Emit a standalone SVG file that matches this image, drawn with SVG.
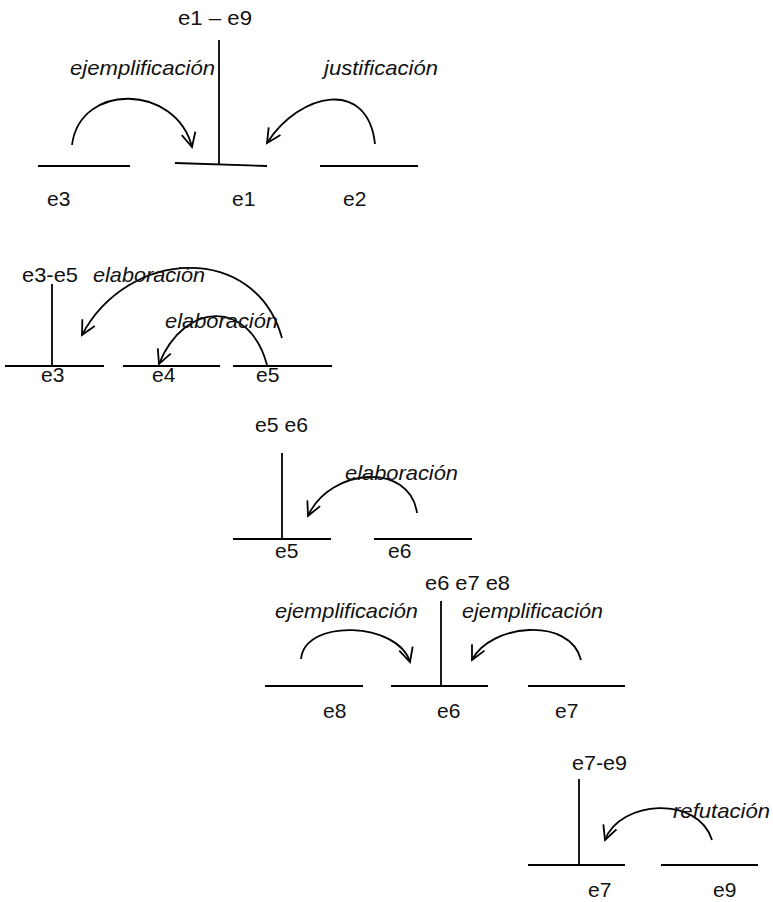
<svg xmlns="http://www.w3.org/2000/svg" width="773" height="902" viewBox="0 0 773 902">
<style>
.ln{stroke:#000;stroke-width:1.8;fill:none}
.t{font-family:"Liberation Sans",Arial,sans-serif;font-size:21px;fill:#111}
.r{font-family:"Liberation Sans",Arial,sans-serif;font-size:21px;font-style:italic;fill:#111}
.arc{stroke:#000;stroke-width:1.8;fill:none;marker-end:url(#ah)}
</style>
<defs>
<marker id="ah" markerUnits="userSpaceOnUse" markerWidth="20" markerHeight="20" refX="0" refY="0" viewBox="-16 -10 20 20" orient="auto">
<path d="M-14,-7 L0,0 L-14,7" stroke="#000" stroke-width="1.8" fill="none"/>
</marker>
</defs>
<rect width="773" height="902" fill="#fff"/>

<!-- Section 1 -->
<g id="n-e1-e9">
<line class="ln" x1="219" y1="40" x2="219" y2="165"/>
<text class="t" x="178" y="25" textLength="74" lengthAdjust="spacingAndGlyphs">e1 – e9</text>
</g>
<g id="n-e3-a">
<line class="ln" x1="38" y1="166" x2="130" y2="166"/>
<text class="t" x="47" y="206">e3</text>
</g>
<g id="n-e1">
<line class="ln" x1="175" y1="163" x2="267" y2="166"/>
<text class="t" x="232" y="206">e1</text>
</g>
<g id="n-e2">
<line class="ln" x1="320" y1="166" x2="418" y2="166"/>
<text class="t" x="343" y="206">e2</text>
</g>

<!-- Section 2 -->
<g id="n-e3-e5">
<line class="ln" x1="52" y1="284" x2="52" y2="366"/>
<text class="t" x="22" y="282" textLength="56" lengthAdjust="spacingAndGlyphs">e3-e5</text>
</g>
<g id="n-e3-b">
<line class="ln" x1="5" y1="366" x2="104" y2="366"/>
<text class="t" x="41" y="382">e3</text>
</g>
<g id="n-e4">
<line class="ln" x1="123" y1="366" x2="220" y2="366"/>
<text class="t" x="152" y="382">e4</text>
</g>
<g id="n-e5-a">
<line class="ln" x1="233" y1="366" x2="332" y2="366"/>
<text class="t" x="256" y="382">e5</text>
</g>

<!-- Section 3 -->
<g id="n-e5-e6">
<line class="ln" x1="282" y1="453" x2="282" y2="539"/>
<text class="t" x="255" y="432" textLength="53" lengthAdjust="spacingAndGlyphs">e5 e6</text>
</g>
<g id="n-e5-b">
<line class="ln" x1="233" y1="539" x2="331" y2="539"/>
<text class="t" x="275" y="558">e5</text>
</g>
<g id="n-e6-a">
<line class="ln" x1="374" y1="539" x2="472" y2="539"/>
<text class="t" x="388" y="558">e6</text>
</g>

<!-- Section 4 -->
<g id="n-e6-e8">
<line class="ln" x1="441" y1="601" x2="441" y2="686"/>
<text class="t" x="425" y="590" textLength="85" lengthAdjust="spacingAndGlyphs">e6 e7 e8</text>
</g>
<g id="n-e8">
<line class="ln" x1="265" y1="686" x2="363" y2="686"/>
<text class="t" x="323" y="718">e8</text>
</g>
<g id="n-e6-b">
<line class="ln" x1="391" y1="686" x2="488" y2="686"/>
<text class="t" x="437" y="718">e6</text>
</g>
<g id="n-e7-a">
<line class="ln" x1="528" y1="686" x2="625" y2="686"/>
<text class="t" x="555" y="718">e7</text>
</g>

<!-- Section 5 -->
<g id="n-e7-e9">
<line class="ln" x1="579" y1="779" x2="579" y2="865"/>
<text class="t" x="572" y="770" textLength="55" lengthAdjust="spacingAndGlyphs">e7-e9</text>
</g>
<g id="n-e7-b">
<line class="ln" x1="528" y1="865" x2="625" y2="865"/>
<text class="t" x="588" y="897">e7</text>
</g>
<g id="n-e9">
<line class="ln" x1="661" y1="865" x2="758" y2="865"/>
<text class="t" x="713" y="897">e9</text>
</g>

<g id="connectors">
<path class="arc" d="M72,145 C80,82 176,84 192,147"/>
<text class="r" x="70" y="75" textLength="145" lengthAdjust="spacingAndGlyphs">ejemplificación</text>
<path class="arc" d="M375,144 C368,78 300,92 267,143"/>
<text class="r" x="324" y="75" textLength="114" lengthAdjust="spacingAndGlyphs">justificación</text>
<path class="arc" d="M282,338 C255,242 128,248 82,335"/>
<text class="r" x="93" y="282" textLength="112" lengthAdjust="spacingAndGlyphs">elaboración</text>
<path class="arc" d="M267,365 C250,300 185,300 159,364"/>
<text class="r" x="165" y="328" textLength="113" lengthAdjust="spacingAndGlyphs">elaboración</text>
<path class="arc" d="M417,513 C410,462 330,467 308,516"/>
<text class="r" x="345" y="480" textLength="113" lengthAdjust="spacingAndGlyphs">elaboración</text>
<path class="arc" d="M301,659 C305,618 398,622 410,662"/>
<text class="r" x="275" y="618" textLength="143" lengthAdjust="spacingAndGlyphs">ejemplificación</text>
<path class="arc" d="M581,660 C570,616 490,624 472,660"/>
<text class="r" x="462" y="618" textLength="141" lengthAdjust="spacingAndGlyphs">ejemplificación</text>
<path class="arc" d="M712,840 C698,795 620,800 605,840"/>
<text class="r" x="673" y="818" textLength="97" lengthAdjust="spacingAndGlyphs">refutación</text>
</g>
</svg>
